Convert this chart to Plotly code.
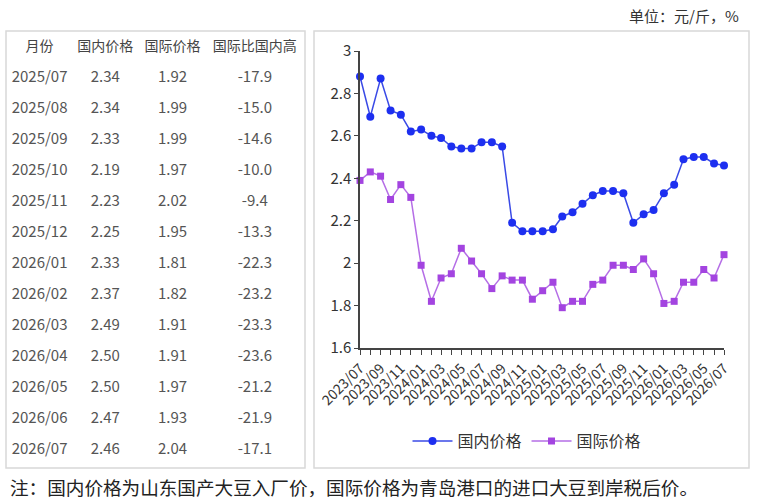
import plotly.graph_objects as go
import pandas as pd

W, H = 760, 499
FONT = 'Noto Sans CJK SC'

# monthly prices, 2023/07 .. 2026/07
months = pd.date_range('2023-07-01', '2026-07-01', freq='MS')
domestic = [2.88, 2.69, 2.87, 2.72, 2.70, 2.62, 2.63, 2.60, 2.59, 2.55, 2.54, 2.54, 2.57,
            2.57, 2.55, 2.19, 2.15, 2.15, 2.15, 2.16, 2.22, 2.24, 2.28, 2.32, 2.34, 2.34,
            2.33, 2.19, 2.23, 2.25, 2.33, 2.37, 2.49, 2.50, 2.50, 2.47, 2.46]
international = [2.39, 2.43, 2.41, 2.30, 2.37, 2.31, 1.99, 1.82, 1.93, 1.95, 2.07, 2.01, 1.95,
                 1.88, 1.94, 1.92, 1.92, 1.83, 1.87, 1.91, 1.79, 1.82, 1.82, 1.90, 1.92, 1.99,
                 1.99, 1.97, 2.02, 1.95, 1.81, 1.82, 1.91, 1.91, 1.97, 1.93, 2.04]

# table on the left
table_months = ['2025/07', '2025/08', '2025/09', '2025/10', '2025/11', '2025/12', '2026/01',
                '2026/02', '2026/03', '2026/04', '2026/05', '2026/06', '2026/07']
table_domestic = ['2.34', '2.34', '2.33', '2.19', '2.23', '2.25', '2.33', '2.37', '2.49',
                  '2.50', '2.50', '2.47', '2.46']
table_intl = ['1.92', '1.99', '1.99', '1.97', '2.02', '1.95', '1.81', '1.82', '1.91', '1.91',
              '1.97', '1.93', '2.04']
table_gap = ['-17.9', '-15.0', '-14.6', '-10.0', '-9.4', '-13.3', '-22.3', '-23.2', '-23.3',
             '-23.6', '-21.2', '-21.9', '-17.1']
table_header = ['月份', '国内价格', '国际价格', '国际比国内高']


def px_x(v):
  return v / W


def px_y(v):
  return 1 - v / H


fig = go.Figure()

fig.add_trace(go.Table(
    domain=dict(x=[px_x(7), px_x(303)], y=[px_y(470), px_y(32)]),
    columnwidth=[65, 66, 68, 96],
    header=dict(values=table_header, align='center', height=31,
                fill_color='white', line_color='white',
                font=dict(family=FONT, size=14, color='#444')),
    cells=dict(values=[table_months, table_domestic, table_intl, table_gap],
               align='center', height=31, fill_color='white', line_color='white',
               font=dict(family=FONT, size=15, color='#555')),
))

fig.add_trace(go.Scatter(
    x=months, y=domestic, name='国内价格', mode='lines+markers', cliponaxis=False,
    line=dict(color='#3a4ae6', width=1.5),
    marker=dict(symbol='circle', size=8, color='#1d2ff0'),
))
fig.add_trace(go.Scatter(
    x=months, y=international, name='国际价格', mode='lines+markers', cliponaxis=False,
    line=dict(color='#b56ee6', width=1.5),
    marker=dict(symbol='square', size=7, color='#a344e0'),
))

fig.update_layout(
    width=W, height=H,
    margin=dict(l=0, r=0, t=0, b=0, autoexpand=False),
    paper_bgcolor='white', plot_bgcolor='white',
    font=dict(family=FONT, color='#333'),
    showlegend=True,
    legend=dict(orientation='h', x=px_x(527), y=px_y(441), xanchor='center', yanchor='middle',
                font=dict(size=16, color='#333'), itemwidth=40, bgcolor='rgba(0,0,0,0)'),
    xaxis=dict(domain=[px_x(360), px_x(724)], type='date', automargin=False,
               range=[months[0], months[-1]],
               tick0='2023-07-01', dtick='M2', tickformat='%Y/%m', tickangle=-45,
               ticks='outside', ticklen=5, tickcolor='#444',
               minor=dict(dtick='M1', ticks='outside', ticklen=5, tickcolor='#444'),
               showline=True, linecolor='#444', linewidth=1.5, showgrid=False,
               tickfont=dict(size=14, color='#333')),
    yaxis=dict(domain=[px_y(348), px_y(51)], range=[1.6, 3], dtick=0.2, automargin=False,
               ticks='outside', ticklen=4, tickcolor='#444',
               showline=True, linecolor='#444', linewidth=1.5, showgrid=False,
               zeroline=False, tickfont=dict(size=15, color='#333')),
    shapes=[
        dict(type='rect', xref='paper', yref='paper', x0=px_x(6), x1=px_x(305),
             y0=px_y(468), y1=px_y(31), line=dict(color='#d8d8d8', width=1.5)),
        dict(type='rect', xref='paper', yref='paper', x0=px_x(314), x1=px_x(749),
             y0=px_y(468), y1=px_y(31), line=dict(color='#d8d8d8', width=1.5)),
    ],
    annotations=[
        dict(text='单位：元/斤，%', xref='paper', yref='paper', x=px_x(741), y=px_y(15),
             xanchor='right', yanchor='middle', showarrow=False,
             font=dict(size=15, color='#333')),
        dict(text='注：国内价格为山东国产大豆入厂价，国际价格为青岛港口的进口大豆到岸税后价。',
             xref='paper', yref='paper', x=px_x(8), y=px_y(486),
             xanchor='left', yanchor='middle', showarrow=False,
             font=dict(size=18.6, color='#222')),
    ],
)

# page body has an 8px margin by default; drop it so the figure fills the window
fig.write_html('out.html', config={'displayModeBar': False},
               post_script="document.body.style.margin='0';document.body.style.overflow='hidden';")
